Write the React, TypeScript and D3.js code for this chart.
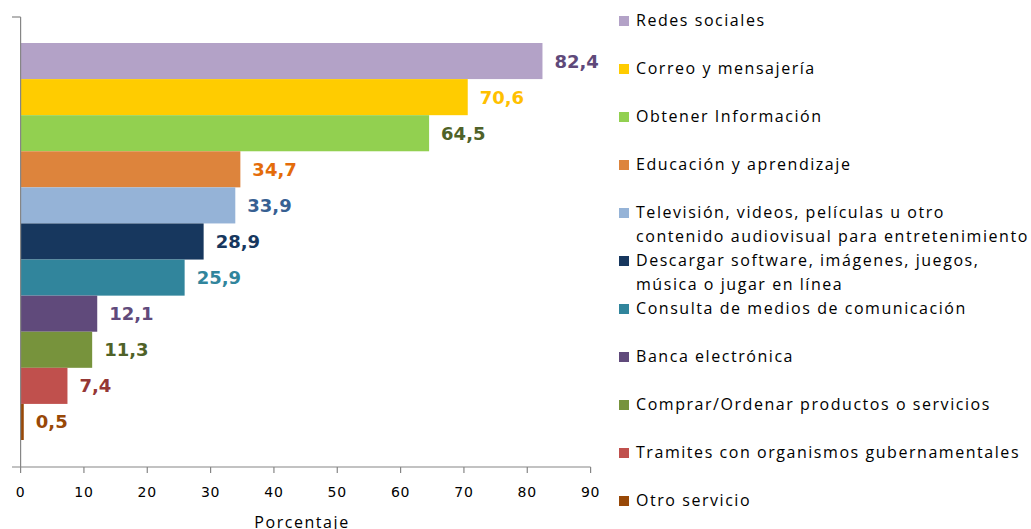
import React from "react";
import * as d3 from "d3";

const categories = [
  "Redes sociales",
  "Correo y mensajería",
  "Obtener Información",
  "Educación y aprendizaje",
  "Televisión, videos, películas u otro contenido audiovisual para entretenimiento",
  "Descargar software, imágenes, juegos, música o jugar en línea",
  "Consulta de medios de comunicación",
  "Banca electrónica",
  "Comprar/Ordenar productos o servicios",
  "Tramites con organismos gubernamentales",
  "Otro servicio",
];
const legendLines = [
  ["Redes sociales"],
  ["Correo y mensajería"],
  ["Obtener Información"],
  ["Educación y aprendizaje"],
  ["Televisión, videos, películas u otro", "contenido audiovisual para entretenimiento"],
  ["Descargar software, imágenes, juegos,", "música o jugar en línea"],
  ["Consulta de medios de comunicación"],
  ["Banca electrónica"],
  ["Comprar/Ordenar productos o servicios"],
  ["Tramites con organismos gubernamentales"],
  ["Otro servicio"],
];
const values = [82.4, 70.6, 64.5, 34.7, 33.9, 28.9, 25.9, 12.1, 11.3, 7.4, 0.5];
const barColors = [
  "#b3a2c7", "#ffcc00", "#92d050", "#dd843c", "#95b3d7", "#17375e",
  "#31859c", "#604a7b", "#77933c", "#c0504d", "#984807",
];
const labelColors = [
  "#5f497a", "#ffc000", "#4f6228", "#e46c0a", "#376092", "#17375e",
  "#31859c", "#604a7b", "#4f6228", "#953735", "#984807",
];
const xTicks = [0, 10, 20, 30, 40, 50, 60, 70, 80, 90];
const xTitle = "Porcentaje";

const W = 1031;
const H = 529;

export default function App() {
  const x = d3.scaleLinear().domain([0, 90]).range([20.6, 590.6]);
  const y = d3.scaleBand<string>().domain(categories).range([43, 440]).padding(0);
  const axisColor = "#868686";
  const fmt = (v: number) => v.toFixed(1).replace(".", ",");
  return (
    <svg
      width={W}
      height={H}
      style={{ position: "absolute", left: 0, top: 0, display: "block", background: "#fff" }}
    >
      {categories.map((c, i) => (
        <rect
          key={c}
          x={x(0)}
          y={y(c)!}
          width={x(values[i]) - x(0)}
          height={y.bandwidth()}
          fill={barColors[i]}
        />
      ))}
      {categories.map((c, i) => (
        <text
          key={"l" + c}
          x={x(values[i]) + 12}
          y={y(c)! + y.bandwidth() / 2}
          dy="0.36em"
          fill={labelColors[i]}
          fontFamily="DejaVu Sans"
          fontWeight="bold"
          fontSize={18}
        >
          {fmt(values[i])}
        </text>
      ))}
      {/* y axis */}
      <line x1={x(0)} x2={x(0)} y1={17} y2={467} stroke={axisColor} strokeWidth={1.2} />
      <line x1={12} x2={x(0)} y1={17} y2={17} stroke={axisColor} strokeWidth={1.2} />
      {/* x axis */}
      <line x1={12} x2={x(90)} y1={467} y2={467} stroke={axisColor} strokeWidth={1.2} />
      {xTicks.map((t) => (
        <g key={t}>
          <line x1={x(t)} x2={x(t)} y1={467} y2={473} stroke={axisColor} strokeWidth={1.2} />
          <text
            x={x(t)}
            y={497}
            textAnchor="middle"
            fontFamily="DejaVu Sans"
            fontSize={14}
            letterSpacing={0.8}
            fill="#000"
          >
            {t}
          </text>
        </g>
      ))}
      <text
        x={302}
        y={528}
        textAnchor="middle"
        fontFamily="Open Sans"
        fontSize={16}
        letterSpacing={1.55}
        fill="#000"
      >
        {xTitle}
      </text>
      {/* legend */}
      {legendLines.map((lines, i) => {
        const base = 26 + 48 * i;
        return (
          <g key={"lg" + i}>
            <rect x={619} y={base - 10} width={10} height={10} fill={barColors[i]} />
            {lines.map((ln, j) => (
              <text
                key={j}
                x={636}
                y={base + 24 * j}
                fontFamily="Open Sans"
                fontSize={16}
                letterSpacing={1.55}
                fill="#000"
              >
                {ln}
              </text>
            ))}
          </g>
        );
      })}
    </svg>
  );
}
